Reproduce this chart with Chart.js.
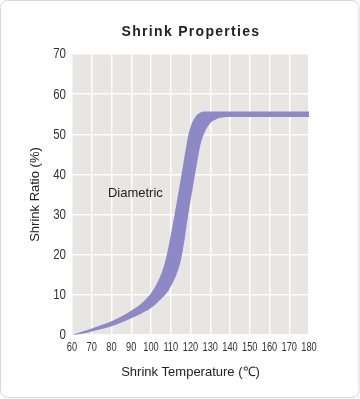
<!DOCTYPE html>
<html><head><meta charset="utf-8">
<script src="https://cdn.jsdelivr.net/npm/chart.js@4"></script>
<style>html,body{margin:0;padding:0;background:#fff;} canvas{display:block;}</style>
</head><body>
<canvas id="c" width="360" height="399"></canvas>
<script>
// ---- data ----
const temps      = [60,65,70,75,80,85,90,95,100,103,105,107,109,111,113,115,117,118,119,120,121,122,123,124,125,127,130,132,134,136,140,150,160,170,180];
const upperRatio = [0,0.8,1.6,2.5,3.4,4.6,6.1,7.8,10.4,12.8,15.0,18.0,22.3,27.5,33,38.7,44.6,47.5,50.0,51.8,53.1,54.0,54.7,55.1,55.4,55.65,55.7,55.7,55.7,55.7,55.7,55.7,55.7,55.7,55.7];
const lowerRatio = [0,0.3,0.9,1.5,2.2,3.1,4.2,5.3,6.7,8.0,8.9,9.9,11.2,13.0,15.2,18.3,23.8,27.2,30.4,33.4,36.2,39.1,42,44.8,47.3,50.3,52.8,53.5,54,54.2,54.3,54.3,54.3,54.3,54.3];
const xTickValues = [60,70,80,90,100,110,120,130,140,150,160,170,180];
const yTickValues = [0,10,20,30,40,50,60,70];
const seriesName = 'Diametric';
const seriesLabelAt = {x: 78.2, y: 35.3};
const chartTitle = 'Shrink Properties';
const xTitle = 'Shrink Temperature (℃)';
const yTitle = 'Shrink Ratio (%)';

const bandColor = 'rgb(141,136,198)';
const plotBg = '#e8e5e2';
const textFont = "'Liberation Sans','Helvetica','Arial',sans-serif";

const decor = {
  id: 'decor',
  beforeDraw(chart) {
    const {ctx, chartArea: a} = chart;
    ctx.save();
    ctx.fillStyle = '#fff';
    ctx.fillRect(0, 0, chart.width, chart.height);
    ctx.strokeStyle = '#d8d8d8';
    ctx.lineWidth = 1;
    ctx.beginPath();
    ctx.roundRect(0.5, 0.5, chart.width - 1.5, chart.height - 2, 7);
    ctx.stroke();
    ctx.fillStyle = plotBg;
    ctx.fillRect(a.left, a.top, a.right - a.left, a.bottom - a.top);
    ctx.restore();
  },
  afterDraw(chart) {
    const {ctx, scales, chartArea: a} = chart;
    ctx.save();
    // title
    ctx.fillStyle = '#222';
    ctx.font = 'bold 14px ' + textFont;
    ctx.letterSpacing = '1.3px';
    ctx.textAlign = 'center';
    ctx.textBaseline = 'alphabetic';
    ctx.fillText(chartTitle, 191, 36);
    ctx.letterSpacing = '0px';
    // condensed tick labels
    ctx.fillStyle = '#333';
    ctx.textBaseline = 'middle';
    ctx.font = '12.5px ' + textFont;
    ctx.textAlign = 'center';
    xTickValues.forEach(v => {
      ctx.save();
      ctx.translate(scales.x.getPixelForValue(v), a.bottom + 12.5);
      ctx.scale(0.74, 1);
      ctx.fillText(String(v), 0, 0);
      ctx.restore();
    });
    ctx.font = '14px ' + textFont;
    ctx.textAlign = 'right';
    yTickValues.forEach(v => {
      ctx.save();
      ctx.translate(a.left - 6, scales.y.getPixelForValue(v) + 0.5);
      ctx.scale(0.82, 1);
      ctx.fillText(String(v), 0, 0);
      ctx.restore();
    });
    // series label
    ctx.fillStyle = '#222';
    ctx.font = '13px ' + textFont;
    ctx.textAlign = 'left';
    ctx.fillText(seriesName, scales.x.getPixelForValue(seriesLabelAt.x), scales.y.getPixelForValue(seriesLabelAt.y));
    ctx.restore();
  }
};

new Chart(document.getElementById('c'), {
  type: 'line',
  data: {
    datasets: [
      {label: 'lower', data: temps.map((t, i) => ({x: t, y: lowerRatio[i]})),
       borderWidth: 0, borderColor: bandColor, pointRadius: 0, fill: false, cubicInterpolationMode: 'monotone'},
      {label: 'upper', data: temps.map((t, i) => ({x: t, y: upperRatio[i]})),
       borderWidth: 0, borderColor: bandColor, backgroundColor: bandColor, pointRadius: 0, fill: '-1', cubicInterpolationMode: 'monotone'}
    ]
  },
  options: {
    responsive: false, animation: false, devicePixelRatio: 1,
    layout: {padding: {left: 4, right: 51, top: 0, bottom: 10}},
    plugins: {
      legend: {display: false}, tooltip: {enabled: false},
      title: {display: true, text: chartTitle, color: 'rgba(0,0,0,0)', font: {size: 14, lineHeight: 1.2}, padding: {top: 20, bottom: 17.2}}
    },
    scales: {
      x: {
        type: 'linear', min: 60, max: 180,
        afterBuildTicks: s => { s.ticks = xTickValues.map(v => ({value: v})); },
        afterFit: s => { s.height = 54; },
        grid: {color: '#fff', lineWidth: 1.5, drawTicks: false},
        border: {display: false},
        ticks: {padding: 5, color: 'rgba(0,0,0,0)', font: {size: 10}, maxRotation: 0, autoSkip: false},
        title: {display: true, text: xTitle, color: '#222', font: {family: textFont, size: 13, lineHeight: 1.2}, padding: {top: 10, bottom: 8.5}}
      },
      y: {
        min: 0, max: 70,
        afterBuildTicks: s => { s.ticks = yTickValues.map(v => ({value: v})); },
        afterFit: s => { s.width = 68; },
        grid: {color: '#fff', lineWidth: 1.5, drawTicks: false},
        border: {display: false},
        ticks: {padding: 6, color: 'rgba(0,0,0,0)', font: {size: 12}},
        title: {display: true, text: yTitle, color: '#222', font: {family: textFont, size: 13, lineHeight: 1.2}, padding: {top: 24, bottom: 0}}
      }
    }
  },
  plugins: [decor]
});
</script>
</body></html>
